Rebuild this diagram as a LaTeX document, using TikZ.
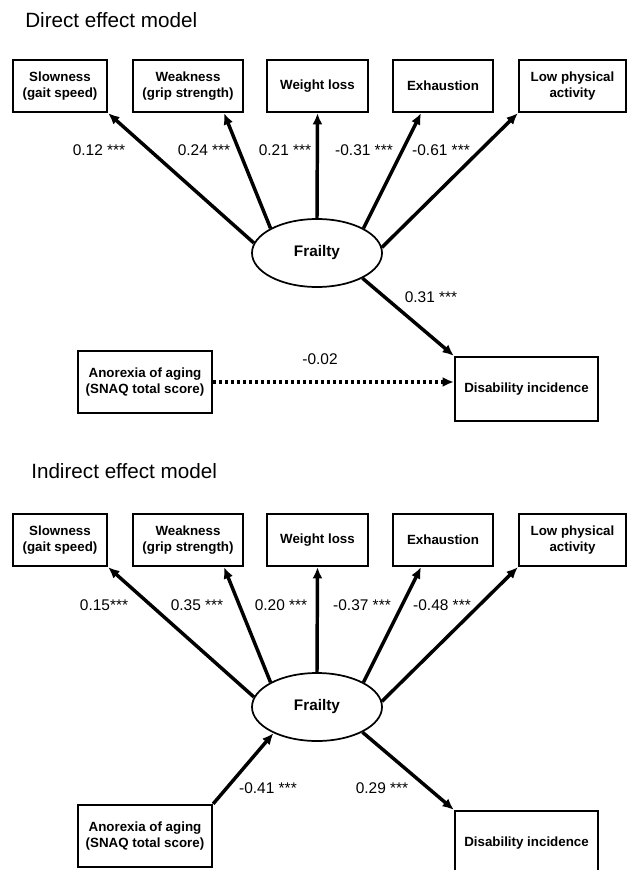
\documentclass[tikz,border=0pt]{standalone}
\usepackage{fontspec}
\setmainfont{Liberation Sans}
\usetikzlibrary{arrows.meta,shapes}

\begin{document}
\begin{tikzpicture}[x=0.75pt,y=-0.75pt,>={Latex[length=8.5pt,width=7.5pt]}]
  \tikzstyle{factor}=[rectangle,draw,line width=1.7pt,inner sep=0pt,align=center,
  		      minimum height=39pt,font=\fontsize{10}{12.5}\selectfont\bfseries]
  \tikzstyle{latent}=[ellipse,draw,line width=1.3pt,inner sep=0pt,minimum width=97.5pt,
  		      minimum height=51pt,font=\fontsize{11.5}{14}\selectfont\bfseries]
  \tikzstyle{outcome}=[factor,minimum width=100.5pt,minimum height=46.5pt]
  \tikzstyle{effect}=[->,line width=2.6pt]
  \tikzstyle{weak effect}=[effect,dash pattern=on 2.5pt off 2pt]
  \tikzstyle{coef}=[inner sep=0pt,font=\fontsize{11.6}{14}\selectfont]
  \tikzstyle{title}=[anchor=base west,inner sep=0pt,font=\fontsize{15.5}{19}\selectfont]
  \useasboundingbox (0,0) rectangle (628,870);
  \node [title] (t1) at (25,28) {Direct effect model};
  \node [title] (t2) at (31,478) {Indirect effect model};
  \begin{scope}
    \node [factor,minimum width=70.5pt] (slow) at (60,86) {Slowness\\(gait speed)};
    \node [factor,minimum width=82.5pt] (weak) at (188,86) {Weakness\\(grip strength)};
    \node [factor,minimum width=75.75pt] (loss) at (317.5,86) {Weight loss};
    \node [factor,minimum width=75pt] (exh) at (443,86) {Exhaustion};
    \node [factor,minimum width=80.25pt] (act) at (572.5,86) {Low physical\\activity};
    \node [latent] (frail) at (317,253) {Frailty};
    \node [outcome] (anor) at (145,382) {Anorexia of aging\\(SNAQ total score)};
    \node [outcome,minimum width=107.25pt,minimum height=48pt] (dis) at (526.5,389) {Disability incidence};
    \draw [effect] (frail.171) -- (slow.south east);
    \draw [effect] (frail.152) -- (weak.-37);
    \draw [effect] (frail.north) -- (loss.south);
    \draw [effect] (frail.28) -- (exh.231);
    \draw [effect] (frail.5) -- (act.south west);
    \draw [effect] (frail.-29) -- (dis.north west);
    \draw [weak effect] (anor.east) -- (anor.east -| dis.west);
    \node [coef] (c1) at (99,150) {0.12 ***};
    \node [coef] (c2) at (204,150) {0.24 ***};
    \node [coef] (c3) at (285,150) {0.21 ***};
    \node [coef] (c4) at (364,150) {-0.31 ***};
    \node [coef] (c5) at (441,150) {-0.61 ***};
    \node [coef] (c6) at (431,297) {0.31 ***};
    \node [coef] (c7) at (320,359) {-0.02};
  \end{scope}
  \begin{scope}[yshift=-340.5pt]
    \node [factor,minimum width=70.5pt] (slow) at (60,86) {Slowness\\(gait speed)};
    \node [factor,minimum width=82.5pt] (weak) at (188,86) {Weakness\\(grip strength)};
    \node [factor,minimum width=75.75pt] (loss) at (317.5,86) {Weight loss};
    \node [factor,minimum width=75pt] (exh) at (443,86) {Exhaustion};
    \node [factor,minimum width=80.25pt] (act) at (572.5,86) {Low physical\\activity};
    \node [latent] (frail) at (317,253) {Frailty};
    \node [outcome] (anor) at (145,382) {Anorexia of aging\\(SNAQ total score)};
    \node [outcome,minimum width=107.25pt,minimum height=48pt] (dis) at (526.5,389) {Disability incidence};
    \draw [effect] (frail.171) -- (slow.south east);
    \draw [effect] (frail.152) -- (weak.-37);
    \draw [effect] (frail.north) -- (loss.south);
    \draw [effect] (frail.28) -- (exh.231);
    \draw [effect] (frail.5) -- (act.south west);
    \draw [effect] (frail.-29) -- (dis.north west);
    \draw [effect] (anor.north east) -- (frail.211);
    \node [coef] (c1) at (104,151) {0.15***};
    \node [coef] (c2) at (197,151) {0.35 ***};
    \node [coef] (c3) at (281,151) {0.20 ***};
    \node [coef] (c4) at (362,151) {-0.37 ***};
    \node [coef] (c5) at (442,151) {-0.48 ***};
    \node [coef] (c6) at (268,334) {-0.41 ***};
    \node [coef] (c7) at (382,334) {0.29 ***};
  \end{scope}
\end{tikzpicture}
\end{document}
